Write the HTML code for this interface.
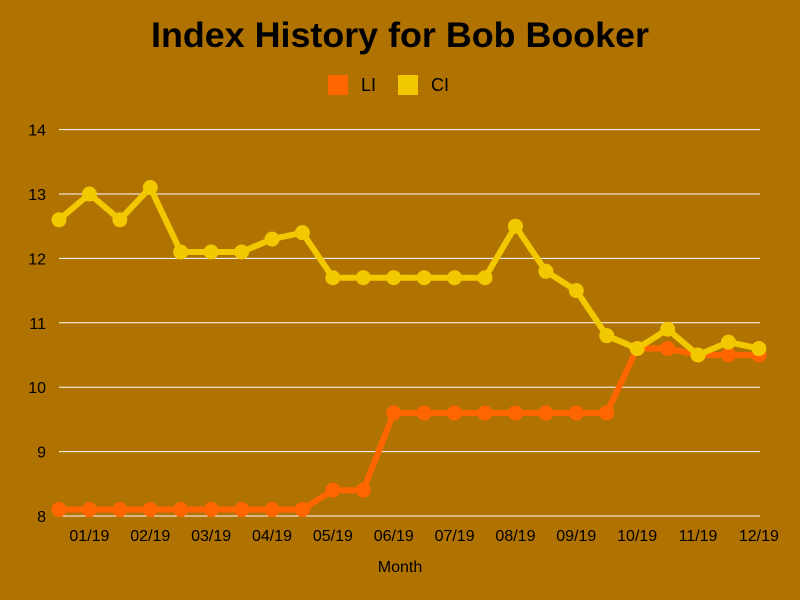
<!DOCTYPE html>
<html><head><meta charset="utf-8"><style>
body{margin:0;background:#b07200;}
svg{display:block;font-family:"Liberation Sans",sans-serif;}
</style></head><body>
<svg id="c" width="800" height="600" xmlns="http://www.w3.org/2000/svg">
<rect width="800" height="600" fill="#b07200"/>
<text x="400" y="47" text-anchor="middle" font-size="35" font-weight="bold" fill="#000" textLength="498" lengthAdjust="spacingAndGlyphs">Index History for Bob Booker</text>
<rect x="328" y="75" width="20" height="20" fill="#ff6600"/>
<text x="361" y="91" font-size="18" fill="#000">LI</text>
<rect x="398" y="75" width="20" height="20" fill="#f2c800"/>
<text x="431" y="91" font-size="18" fill="#000">CI</text>
<text x="400" y="572" text-anchor="middle" font-size="16" fill="#000">Month</text>
<g id="g"></g>
</svg>
<script>
var g=document.getElementById('g'),s='';
function Y(v){return 516-(v-8)*64.4;}
function X(i){return 59+i*30.43;}
for(var v=8;v<=14;v++){s+='<line x1="59" x2="760" y1="'+Y(v)+'" y2="'+Y(v)+'" stroke="#fff" stroke-width="1"/>';
s+='<text x="46" y="'+(Y(v)+6)+'" text-anchor="end" font-size="16" fill="#000">'+v+'</text>';}
var lab=['01/19','02/19','03/19','04/19','05/19','06/19','07/19','08/19','09/19','10/19','11/19','12/19'];
for(var i=0;i<12;i++)s+='<text x="'+X(2*i+1)+'" y="541" text-anchor="middle" font-size="16" fill="#000">'+lab[i]+'</text>';
var LI=[8.1,8.1,8.1,8.1,8.1,8.1,8.1,8.1,8.1,8.4,8.4,9.6,9.6,9.6,9.6,9.6,9.6,9.6,9.6,10.6,10.6,10.5,10.5,10.5];
var CI=[12.6,13,12.6,13.1,12.1,12.1,12.1,12.3,12.4,11.7,11.7,11.7,11.7,11.7,11.7,12.5,11.8,11.5,10.8,10.6,10.9,10.5,10.7,10.6];
function ser(d,c){var p=d.map(function(v,i){return X(i)+','+Y(v)}).join(' ');
s+='<polyline points="'+p+'" fill="none" stroke="'+c+'" stroke-width="6" stroke-linejoin="round"/>';
d.forEach(function(v,i){s+='<circle cx="'+X(i)+'" cy="'+Y(v)+'" r="7.5" fill="'+c+'"/>';});}
ser(LI,'#ff6600');ser(CI,'#f2c800');
g.innerHTML=s;
</script>
</body></html>
